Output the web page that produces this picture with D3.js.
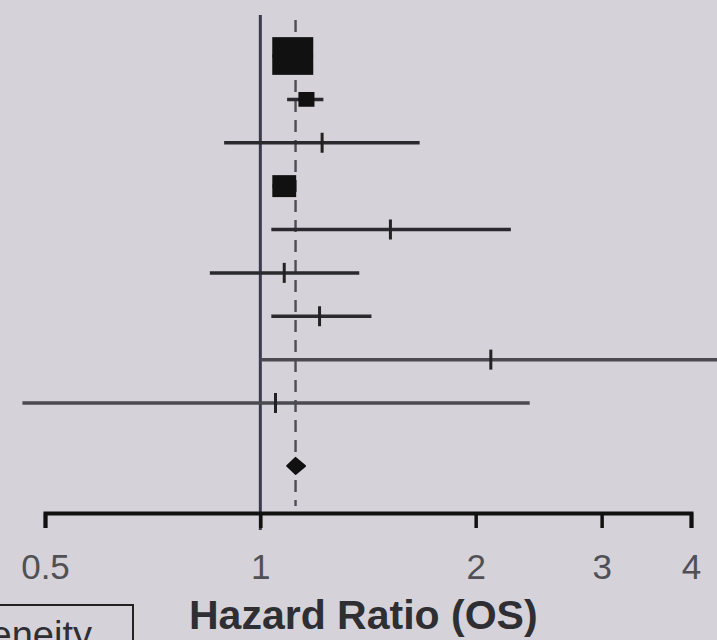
<!DOCTYPE html>
<html lang="en">
<head>
    <meta charset="UTF-8">
    <title>Forest plot</title>
    <style>
        body { margin: 0; background: #d5d2d9; overflow: hidden; }
        svg { display: block; font-family: "Liberation Sans", Arial, sans-serif; }
    </style>
</head>
<body>
    <svg width="717" height="640" id="svg"></svg>
    <script src="https://d3js.org/d3.v7.min.js"></script>
    <script>
        // study rows, top to bottom
        const rows = [1, 2, 3, 4, 5, 6, 7, 8, 9]
        const hr = [1.11, 1.16, 1.22, 1.08, 1.52, 1.08, 1.21, 2.10, 1.05]
        const lower = [1.04, 1.09, 0.89, 1.04, 1.036, 0.85, 1.036, 1.0, 0.465]
        const upper = [1.185, 1.225, 1.67, 1.12, 2.24, 1.375, 1.43, 5.0, 2.38]
        const weight = [62, 9.5, 0.6, 21, 0.6, 0.6, 0.6, 0.6, 0.6]
        // pooled estimate
        const pooled = { row: 10.45, hr: 1.12, lower: 1.09, upper: 1.155 }
        const ticks = [0.5, 1, 2, 3, 4]
        const xLabel = "Hazard Ratio (OS)"
        const legendText = "Heterogeneity"

        const svg = d3.select("svg#svg")
        const axisY = 513

        const x = d3.scaleLog().base(2).domain([0.5, 4]).range([45, 691])
        const y = d3.scaleLinear().domain([1, 9]).range([56, 403])
        const side = d3.scaleSqrt().domain([0, 62]).range([0, 41])

        // line of no effect
        svg.append("line")
            .attr("x1", x(1)).attr("x2", x(1))
            .attr("y1", 15).attr("y2", 530)
            .attr("stroke", "#3a3a4c").attr("stroke-width", 3)

        // pooled estimate dashed line
        svg.append("line")
            .attr("x1", x(pooled.hr)).attr("x2", x(pooled.hr))
            .attr("y1", 20).attr("y2", 506)
            .attr("stroke", "#4e4e56").attr("stroke-width", 2.4)
            .attr("stroke-dasharray", "12,8")

        const data = rows.map((r, i) => ({ row: r, hr: hr[i], lo: lower[i], hi: upper[i], w: weight[i] }))

        // confidence intervals
        svg.selectAll("line.ci").data(data).join("line")
            .attr("class", "ci")
            .attr("x1", d => x(d.lo)).attr("x2", d => x(d.hi))
            .attr("y1", d => y(d.row)).attr("y2", d => y(d.row))
            .attr("stroke", (d, i) => i >= 7 ? "#4a4a50" : "#2a2a2e")
            .attr("stroke-width", 3.5)

        // boxes (big weights) or tick marks (small weights)
        const big = data.filter(d => d.w > 3)
        const small = data.filter(d => d.w <= 3)
        svg.selectAll("rect.box").data(big).join("rect")
            .attr("class", "box")
            .attr("x", d => x(d.hr) - side(d.w) / 2)
            .attr("y", d => y(d.row) - side(d.w) * 0.46)
            .attr("width", d => side(d.w))
            .attr("height", d => side(d.w) * 0.92)
            .attr("fill", "#111")
        svg.selectAll("line.pt").data(small).join("line")
            .attr("class", "pt")
            .attr("x1", d => x(d.hr)).attr("x2", d => x(d.hr))
            .attr("y1", d => y(d.row) - 10).attr("y2", d => y(d.row) + 10)
            .attr("stroke", "#222").attr("stroke-width", 3)

        // pooled diamond
        const py = y(pooled.row)
        svg.append("path")
            .attr("d", `M${x(pooled.lower)},${py}L${x(pooled.hr)},${py - 8}L${x(pooled.upper)},${py}L${x(pooled.hr)},${py + 8}Z`)
            .attr("fill", "#111").attr("stroke", "#111").attr("stroke-width", 2).attr("stroke-linejoin", "round")

        // axis
        const xAxis = d3.axisBottom(x).tickValues(ticks).tickFormat(d3.format("")).tickSize(15).tickSizeOuter(15).tickPadding(26)
        const gx = svg.append("g").attr("transform", `translate(0,${axisY})`).call(xAxis)
        gx.select(".domain").attr("stroke", "#111").attr("stroke-width", 4)
        gx.selectAll(".tick line").attr("stroke", "#111").attr("stroke-width", 3.5)
        gx.selectAll(".tick text").attr("fill", "#505055").attr("font-size", 35).attr("font-family", "Liberation Sans, Arial, sans-serif")

        svg.append("text")
            .attr("x", 189).attr("y", 629)
            .attr("font-size", 41).attr("font-weight", "bold").attr("fill", "#2e2e33")
            .text(xLabel)

        // legend box (cut off at edge)
        svg.append("rect")
            .attr("x", -10).attr("y", 605).attr("width", 143).attr("height", 60)
            .attr("fill", "none").attr("stroke", "#222").attr("stroke-width", 2)
        svg.append("text")
            .attr("x", 92).attr("y", 648).attr("text-anchor", "end")
            .attr("font-size", 38).attr("fill", "#2e2e33")
            .text(legendText)
    </script>
</body>
</html>
